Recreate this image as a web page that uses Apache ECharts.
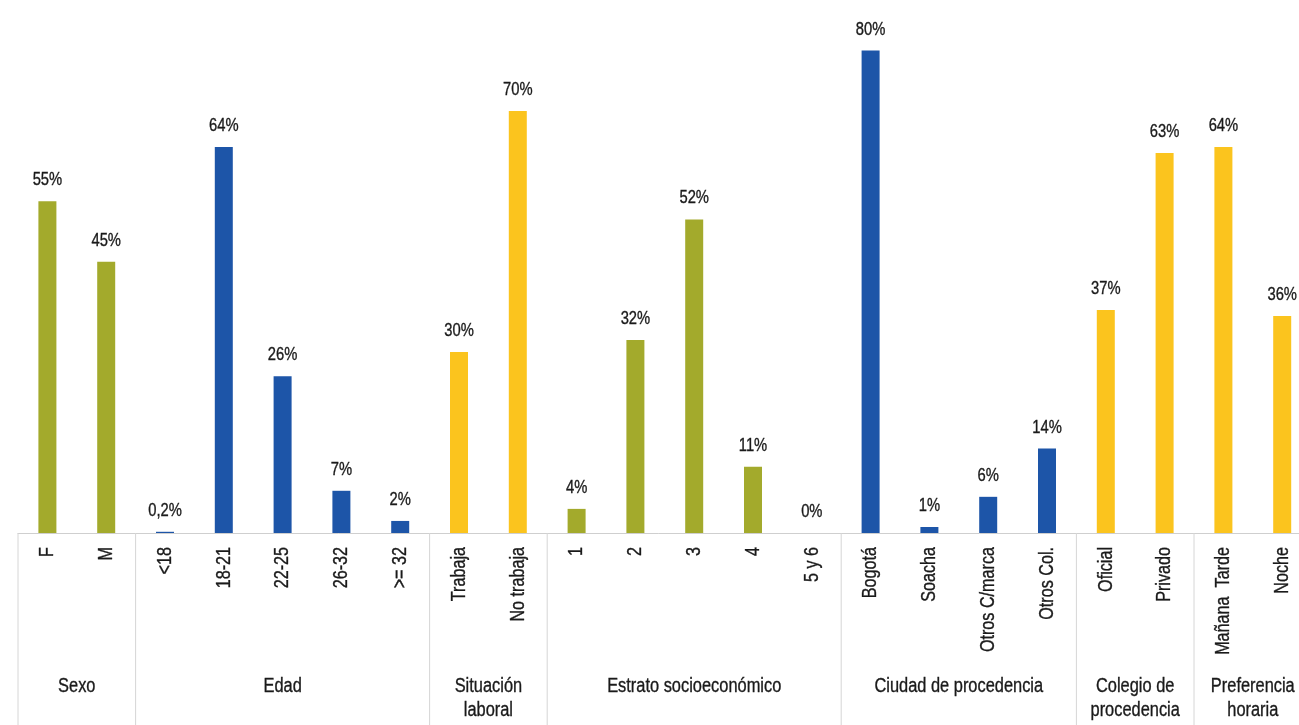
<!DOCTYPE html>
<html>
<head>
<meta charset="utf-8">
<style>
  html, body { margin: 0; padding: 0; background: #ffffff; }
  #chart { width: 1299px; height: 725px; }
</style>
<script src="https://cdn.jsdelivr.net/npm/echarts@6/dist/echarts.min.js"></script>
</head>
<body>
<div id="chart"></div>
<script>
const categories = ['F', 'M', '<18', '18-21', '22-25', '26-32', '>= 32', 'Trabaja', 'No trabaja',
  '1', '2', '3', '4', '5 y 6', 'Bogotá', 'Soacha', 'Otros C/marca', 'Otros Col.',
  'Oficial', 'Privado', 'Mañana  Tarde', 'Noche'];
const values = [55, 45, 0.2, 64, 26, 7, 2, 30, 70, 4, 32, 52, 11, 0, 80, 1, 6, 14, 37, 63, 64, 36];
const groupNames = ['Sexo', 'Edad', 'Situación\nlaboral', 'Estrato socioeconómico',
  'Ciudad de procedencia', 'Colegio de\nprocedencia', 'Preferencia\nhoraria'];
const groupSizes = [2, 5, 2, 5, 4, 2, 2];
const groupColors = ['#A3AA2C', '#1D55A8', '#FBC41E', '#A3AA2C', '#1D55A8', '#FBC41E', '#FBC41E'];

// Arial-metric font, horizontally condensed to imitate a narrow face
const FONT = '"Liberation Sans", Arial, sans-serif';
const TEXT_COLOR = '#1a1a1a';

const groupRanges = [];
const barColors = [];
let idx = 0;
groupSizes.forEach((n, g) => {
  groupRanges.push({ value: [idx, 0, idx + n - 1], name: groupNames[g] });
  for (let k = 0; k < n; k++) barColors.push(groupColors[g]);
  idx += n;
});

function fmt(v) { return String(v).replace('.', ',') + '%'; }

function textStyle(text, size, align, vAlign, extra) {
  return Object.assign({
    text: text,
    fontSize: size,
    fontFamily: FONT,
    fill: TEXT_COLOR,
    stroke: TEXT_COLOR,
    lineWidth: 0.35,
    align: align,
    verticalAlign: vAlign
  }, extra || {});
}

const chart = echarts.init(document.getElementById('chart'));
chart.setOption({
  animation: false,
  backgroundColor: '#ffffff',
  grid: { left: 18, width: 1293.6, top: 50.6, bottom: 192, outerBoundsMode: 'none', containLabel: false },
  xAxis: {
    type: 'category',
    data: categories,
    axisLine: { show: true, lineStyle: { color: '#cfcfcf', width: 1 } },
    axisTick: { show: false },
    axisLabel: { show: false },
    splitLine: { show: false }
  },
  yAxis: { type: 'value', min: 0, max: 80, show: false },
  series: [
    {
      type: 'bar',
      barWidth: 18,
      data: values.map((v, i) => ({ value: v, itemStyle: { color: barColors[i] } }))
    },
    {
      // value labels above bars and rotated category labels below the axis
      type: 'custom',
      silent: true,
      clip: false,
      data: values.map((v, i) => [i, v]),
      renderItem: function (params, api) {
        const i = api.value(0);
        const v = api.value(1);
        const top = api.coord([i, v]);
        const base = api.coord([i, 0]);
        return {
          type: 'group',
          children: [
            {
              type: 'text',
              x: top[0],
              y: top[1] - 21,
              scaleX: 0.82,
              style: textStyle(fmt(values[params.dataIndex]), 18, 'center', 'middle')
            },
            {
              type: 'text',
              x: base[0],
              y: base[1] + 14,
              rotation: Math.PI / 2,
              scaleX: 0.77,
              style: textStyle(categories[params.dataIndex], 21, 'right', 'middle')
            }
          ]
        };
      }
    },
    {
      // group separators and group names
      type: 'custom',
      silent: true,
      clip: false,
      data: groupRanges,
      renderItem: function (params, api) {
        const s = api.value(0);
        const e = api.value(2);
        const bw = api.size([1, 0])[0];
        const p0 = api.coord([s, 0]);
        const p1 = api.coord([e, 0]);
        const x0 = p0[0] - bw / 2;
        const xm = (p0[0] + p1[0]) / 2;
        const base = p0[1];
        return {
          type: 'group',
          children: [
            {
              type: 'line',
              shape: { x1: x0, y1: base, x2: x0, y2: base + 200 },
              style: { stroke: '#d6d6d6', lineWidth: 1 }
            },
            {
              type: 'text',
              x: xm,
              y: base + 141,
              scaleX: 0.82,
              style: textStyle(groupNames[params.dataIndex], 20, 'center', 'top', { lineHeight: 24 })
            }
          ]
        };
      }
    }
  ]
});
</script>
</body>
</html>
